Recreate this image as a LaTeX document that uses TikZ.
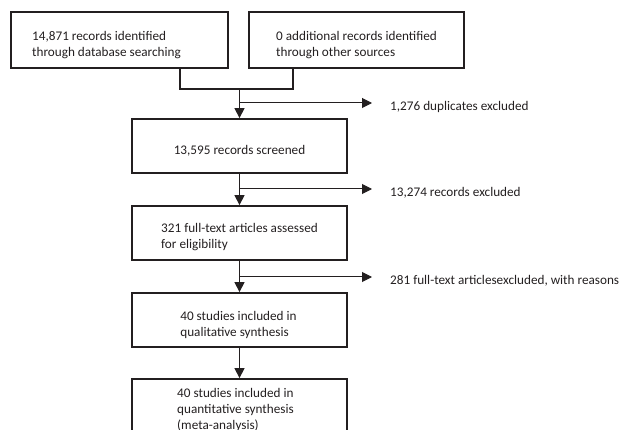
\documentclass[tikz,border=0pt]{standalone}
\usepackage{fontspec}
\setmainfont{Carlito}
\usetikzlibrary{arrows.meta,calc}
\definecolor{ink}{RGB}{35,31,32}
\begin{document}
\begin{tikzpicture}[x=1pt,y=-1pt,
  box/.style={draw=ink, line width=1.8pt, inner sep=0pt, minimum width=215pt, minimum height=54pt},
  lbl/.style={text=ink, align=left, font=\fontsize{13.2}{15.7}\selectfont, inner sep=0pt},
  conn/.style={draw=ink, line width=1.3pt},
  joinline/.style={draw=ink, line width=1.8pt},
  arr/.style={conn, -{Triangle[length=10pt,width=10pt]}},
  side/.style={draw=ink, line width=1pt, -{Triangle[length=10pt,width=10pt]}}]
\useasboundingbox (0,0) rectangle (619,430);

% boxes
\node[box, minimum width=217pt, minimum height=56pt,
  label={[lbl, name=t1, xshift=-13pt, yshift=-5pt]center:{14,871 records identified\\through database searching}}]
  (b1) at (119.5,40) {};
\node[box, minimum height=56pt,
  label={[lbl, name=t2, yshift=-5pt]center:{0 additional records identified\\through other sources}}]
  (b2) at (356.5,40) {};
\node[box,
  label={[lbl, name=t3, yshift=-5pt]center:{13,595 records screened}}]
  (b3) at (239.5,146) {};
\node[box,
  label={[lbl, name=t4, yshift=-4pt]center:{321 full-text articles assessed\\for eligibility}}]
  (b4) at (239.5,233) {};
\node[box,
  label={[lbl, name=t5, xshift=-1pt, yshift=-5pt]center:{40 studies included in\\qualitative synthesis}}]
  (b5) at (239.5,320) {};
\node[box,
  label={[lbl, name=t6, xshift=-4pt, yshift=-4pt]center:{40 studies included in\\quantitative synthesis\\(meta-analysis)}}]
  (b6) at (239.5,406) {};

% side texts
\node[lbl, anchor=west] (e1) at (390,107) {1,276 duplicates excluded};
\node[lbl, anchor=west] (e2) at (390,193) {13,274 records excluded};
\node[lbl, anchor=west] (e3) at (390,281) {281 full-text articlesexcluded, with reasons};

% joining connector
\coordinate (jl) at (180,89);
\coordinate (jr) at (293,89);
\coordinate (jm) at (239.5,89);
\draw[joinline] (b1.south -| jl) -- (jl) -- (jr) -- (b2.south -| jr);

% main flow
\draw[arr] (jm) -- (b3.north);
\draw[arr] (b3.south) -- (b4.north);
\draw[arr] (b4.south) -- (b5.north);
\draw[arr] (b5.south) -- (b6.north);

% exclusion branches
\coordinate (a1) at (372,103);
\coordinate (a2) at (372,189);
\coordinate (a3) at (372,277);
\draw[side] (b3.north |- a1) -- (a1);
\draw[side] (b3.south |- a2) -- (a2);
\draw[side] (b4.south |- a3) -- (a3);
\end{tikzpicture}
\end{document}
